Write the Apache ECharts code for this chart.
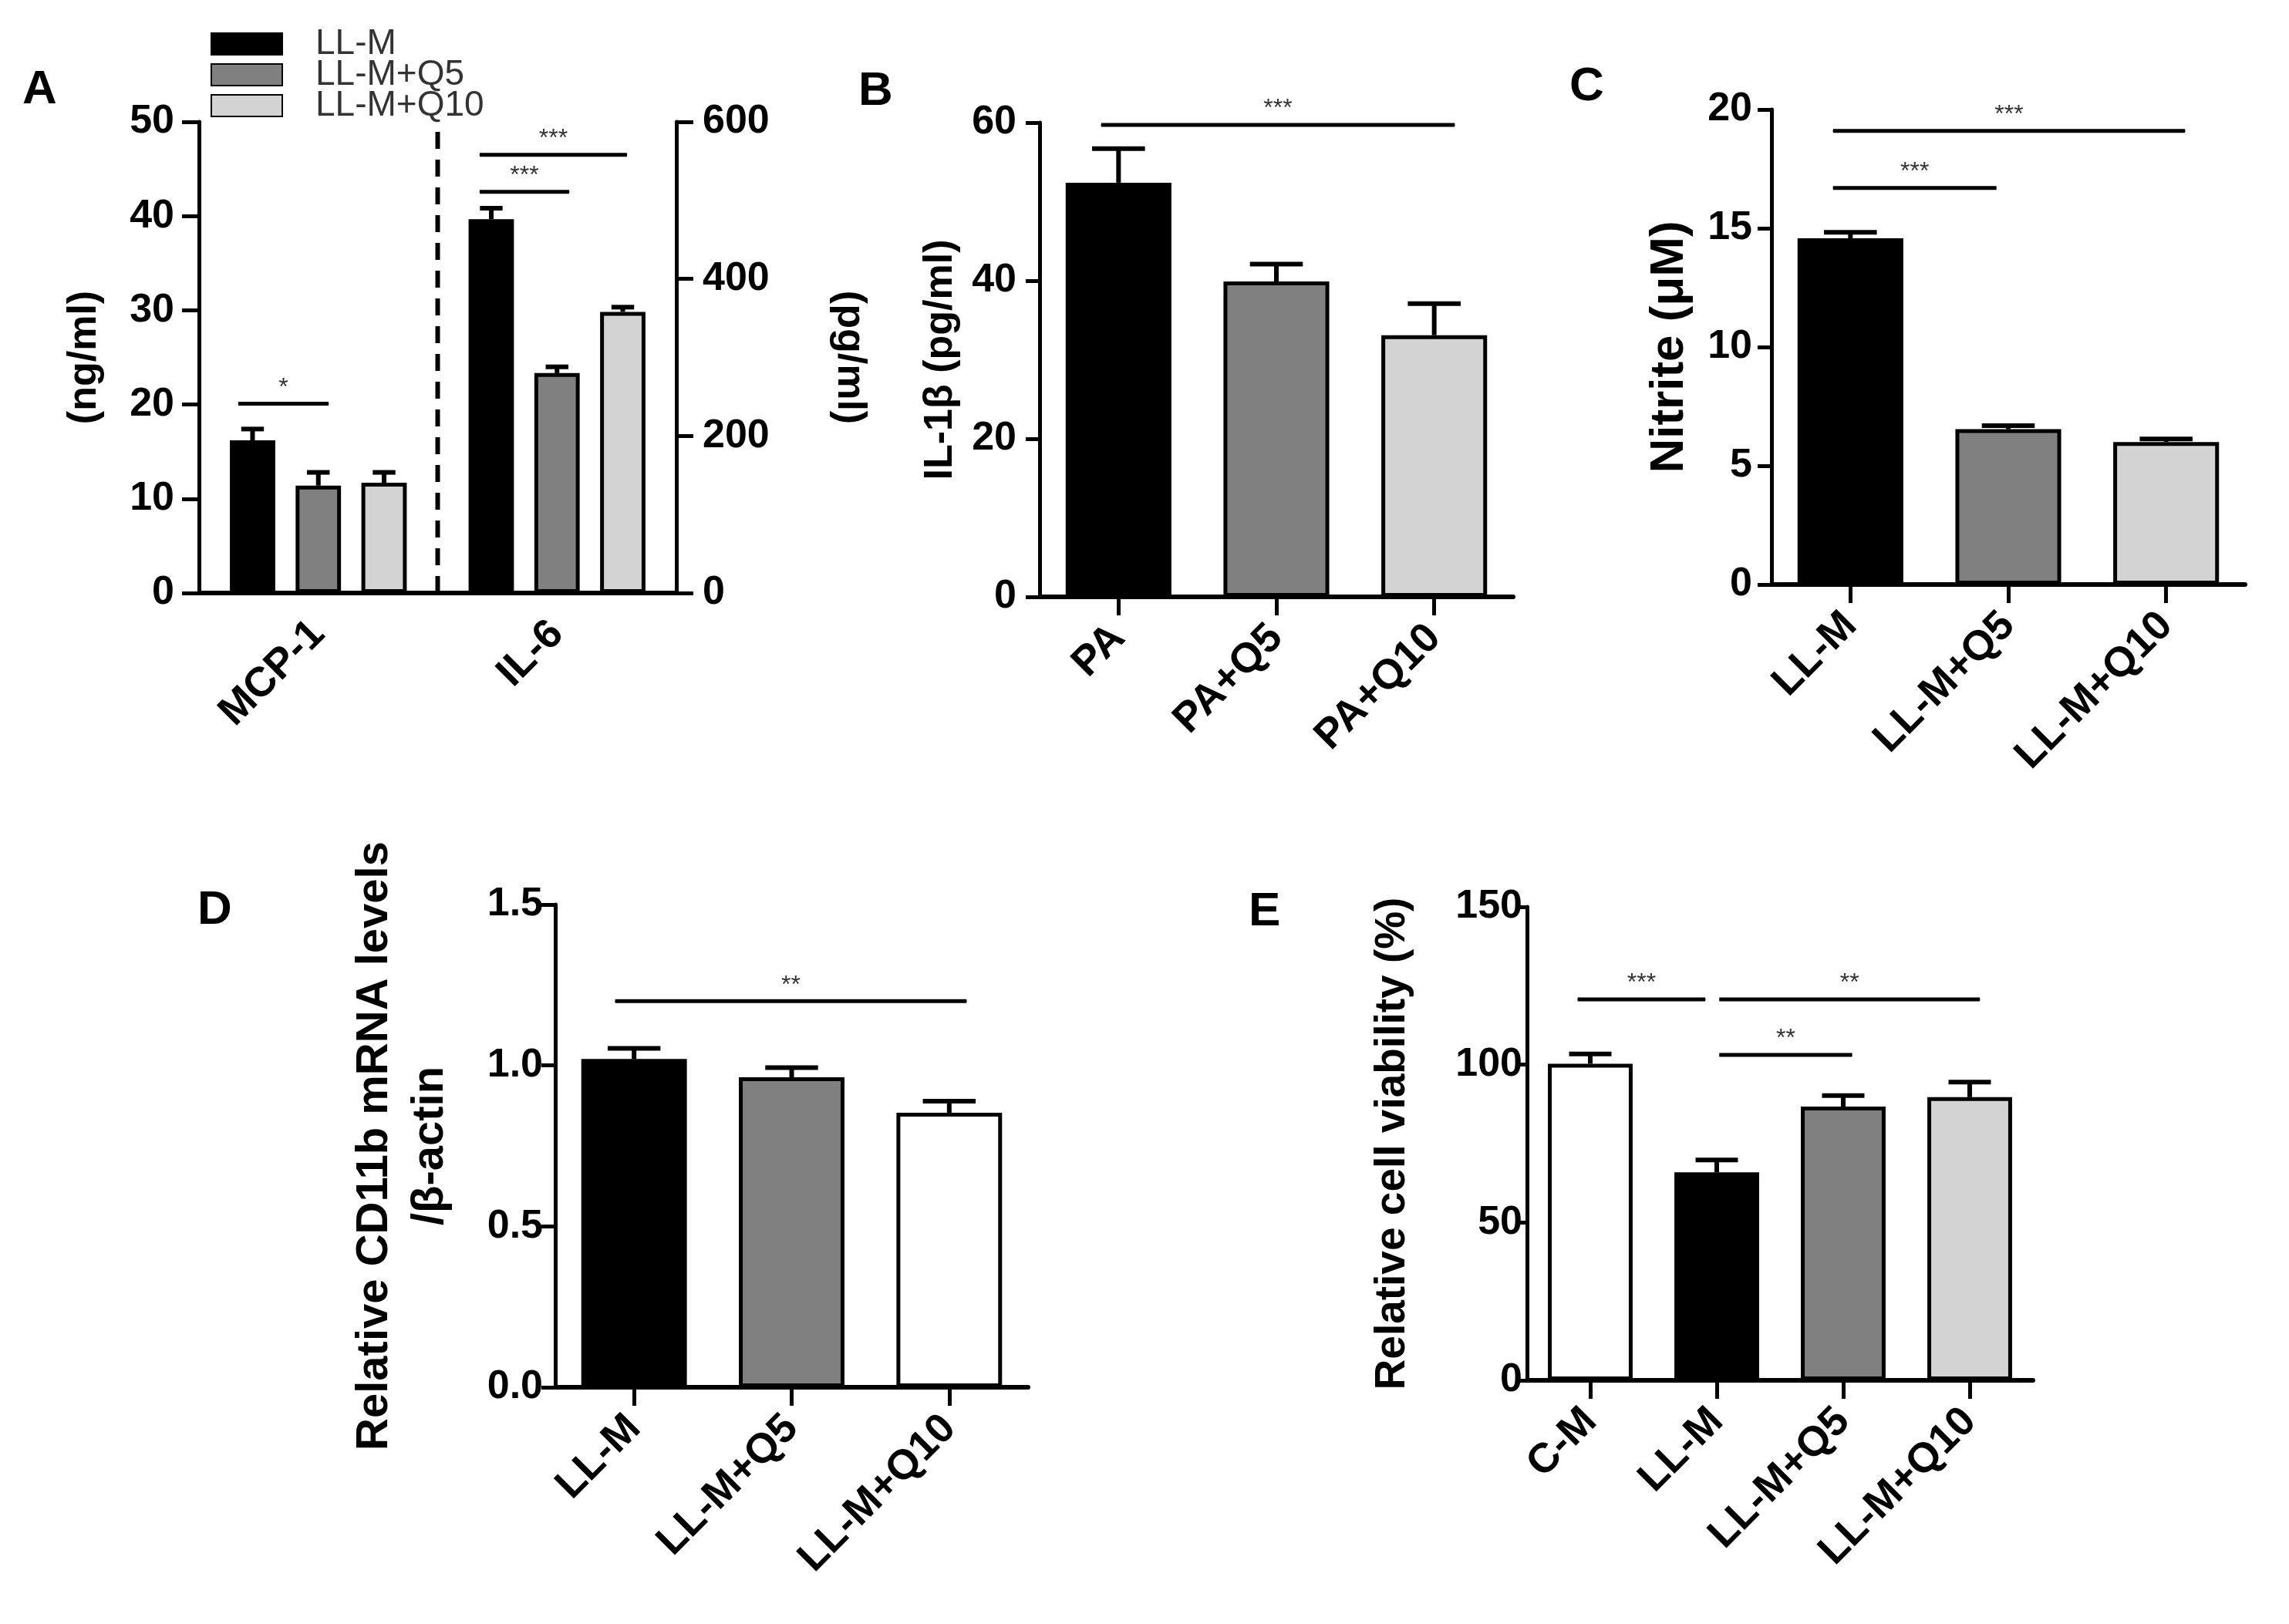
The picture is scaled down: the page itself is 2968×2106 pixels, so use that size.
<!DOCTYPE html>
<html>
<head>
<meta charset="utf-8">
<script src="https://cdn.jsdelivr.net/npm/echarts@6/dist/echarts.min.js"></script>
<style>
  html, body { margin: 0; padding: 0; background: #fff; }
  #main { width: 2968px; height: 2106px; }
</style>
</head>
<body>
<div id="main"></div>
<script>
var FONT = '"Liberation Sans", Arial, sans-serif';
var BLACK = '#000000', GRAY = '#808080', LIGHT = '#d3d3d3', WHITE = '#ffffff';

// ---- A: MCP-1 (left axis, ng/ml) and IL-6 (right axis, pg/ml)
var groupsA = ['MCP-1', 'IL-6'];
var namesA = ['LL-M', 'LL-M+Q5', 'LL-M+Q10'];
var colorsA = [BLACK, GRAY, LIGHT];
var mcp1Values = [16.2, 11.4, 11.7];
var mcp1Errors = [1.2, 1.4, 1.1];
var il6Values = [476, 280, 358];
var il6Errors = [14, 8, 6];
var ticksALeft = [0, 10, 20, 30, 40, 50];
var ticksARight = [0, 200, 400, 600];
// [from, to (category units), level, stars, axis 0=left 1=right]
var sigA = [[-0.335, 0.043, 20.1, '*', 0], [0.676, 1.051, 511, '***', 1], [0.676, 1.293, 558, '***', 1]];

// ---- B: IL-1beta
var catsB = ['PA', 'PA+Q5', 'PA+Q10'];
var valuesB = [52.4, 39.9, 33.1];
var errorsB = [4.3, 2.2, 4.0];
var colorsB = [BLACK, GRAY, LIGHT];
var ticksB = [0, 20, 40, 60];
var sigB = [[-0.11, 2.13, 59.7, '***']];

// ---- C: nitrite
var catsC = ['LL-M', 'LL-M+Q5', 'LL-M+Q10'];
var valuesC = [14.58, 6.54, 6.0];
var errorsC = [0.25, 0.15, 0.13];
var colorsC = [BLACK, GRAY, LIGHT];
var ticksC = [0, 5, 10, 15, 20];
var sigC = [[-0.11, 2.12, 19.1, '***'], [-0.11, 0.925, 16.7, '***']];

// ---- D: CD11b mRNA
var catsD = ['LL-M', 'LL-M+Q5', 'LL-M+Q10'];
var valuesD = [1.02, 0.963, 0.853];
var errorsD = [0.033, 0.03, 0.036];
var colorsD = [BLACK, GRAY, WHITE];
var ticksD = [0, 0.5, 1.0, 1.5];
var sigD = [[-0.12, 2.11, 1.2, '**']];

// ---- E: cell viability
var catsE = ['C-M', 'LL-M', 'LL-M+Q5', 'LL-M+Q10'];
var valuesE = [100.3, 65.9, 86.7, 89.7];
var errorsE = [3.1, 3.9, 3.5, 4.8];
var colorsE = [WHITE, BLACK, GRAY, LIGHT];
var ticksE = [0, 50, 100, 150];
var sigE = [[-0.10, 0.91, 120.7, '***'], [1.02, 3.08, 120.7, '**'], [1.02, 2.07, 103.1, '**']];

var chart = echarts.init(document.getElementById('main'));

var txt = { fontFamily: FONT, fontWeight: 'bold', color: '#000' };

function yAxis(grid, ticks, name, gap, pos, rot, margin, digits) {
  return {
    type: 'value', gridIndex: grid, position: pos,
    min: ticks[0], max: ticks[ticks.length - 1], interval: ticks[1] - ticks[0],
    name: name, nameLocation: 'middle', nameGap: gap, nameRotate: rot,
    nameTextStyle: Object.assign({ fontSize: 52, lineHeight: 72 }, txt),
    axisLine: { show: true, onZero: false, lineStyle: { color: '#000', width: 5 } },
    axisTick: { show: true, length: 18, lineStyle: { color: '#000', width: 5 } },
    axisLabel: Object.assign({ margin: margin, fontSize: 52,
      formatter: function (v) { return digits ? v.toFixed(digits) : String(v); } }, txt),
    splitLine: { show: false }
  };
}

function xCat(grid, cats, show, ticks) {
  return {
    type: 'category', gridIndex: grid, data: cats, show: show,
    axisLine: { show: true, onZero: false, lineStyle: { color: '#000', width: 6 } },
    axisTick: { show: ticks, alignWithLabel: true, length: 24, lineStyle: { color: '#000', width: 5 } },
    axisLabel: Object.assign({ rotate: 45, margin: 45, fontSize: 54, interval: 0 }, txt),
    splitLine: { show: false }
  };
}

function xVal(grid, n) {
  return { type: 'value', gridIndex: grid, min: -0.5, max: n - 0.5, show: false,
    axisLine: { onZero: false }, splitLine: { show: false } };
}

function errSeries(xi, yi, xs, vals, errs, barFrac) {
  return {
    type: 'custom', xAxisIndex: xi, yAxisIndex: yi, z: 4, silent: true,
    data: vals.map(function (v, i) { return [xs[i], v, v + errs[i]]; }),
    renderItem: function (params, api) {
      var base = api.coord([api.value(0), api.value(1)]);
      var top = api.coord([api.value(0), api.value(2)]);
      var half = api.size([barFrac, 0])[0] / 4;
      var st = { stroke: '#000', lineWidth: 6 };
      return { type: 'group', children: [
        { type: 'line', shape: { x1: base[0], y1: base[1], x2: top[0], y2: top[1] }, style: st },
        { type: 'line', shape: { x1: top[0] - half, y1: top[1], x2: top[0] + half, y2: top[1] }, style: st }
      ] };
    }
  };
}

function sigSeries(xi, yi, s) {
  var mid = (s[0] + s[1]) / 2;
  return {
    type: 'line', xAxisIndex: xi, yAxisIndex: yi, silent: true, z: 6,
    symbol: 'circle', symbolSize: 1, showSymbol: true, itemStyle: { color: '#000' },
    lineStyle: { color: '#000', width: 5 },
    label: { show: false },
    data: [[s[0], s[2]],
      { value: [mid, s[2]], label: { show: true, position: 'top', distance: 4, formatter: s[3],
        fontFamily: FONT, fontSize: 32, color: '#333' } },
      [s[1], s[2]]]
  };
}

function barItems(vals, colors) {
  return vals.map(function (v, i) {
    return { value: v, itemStyle: { color: colors[i], borderColor: '#000', borderWidth: 5 } };
  });
}

var grids = [
  { left: 258, top: 158, width: 619, height: 611 },   // A
  { left: 1348, top: 159, width: 614, height: 615 },  // B
  { left: 2297, top: 142, width: 614, height: 616 },  // C
  { left: 720, top: 1173, width: 613, height: 626 },  // D
  { left: 1980, top: 1176, width: 656, height: 614 }  // E
];

var xAxes = [
  xCat(0, groupsA, true, false), xCat(0, groupsA, false, false), xVal(0, 2),
  xCat(1, catsB, true, true), xVal(1, catsB.length),
  xCat(2, catsC, true, true), xVal(2, catsC.length),
  xCat(3, catsD, true, true), xVal(3, catsD.length),
  xCat(4, catsE, true, true), xVal(4, catsE.length)
];

var yAxes = [
  yAxis(0, ticksALeft, '(ng/ml)', 112, 'left', 90, 32),
  yAxis(0, ticksARight, '(pg/ml)', 188, 'right', -90, 34),
  yAxis(1, ticksB, 'IL-1β (pg/ml)', 92, 'left', 90, 30),
  yAxis(2, ticksC, 'Nitrite (μM)', 96, 'left', 90, 25),
  yAxis(3, ticksD, 'Relative CD11b mRNA levels\n/β-actin', 126, 'left', 90, 16, 1),
  yAxis(4, ticksE, 'Relative cell viability (%)', 138, 'left', 90, 6)
];
yAxes[0].axisTick.length = 22;
yAxes[1].axisTick.length = 22;
yAxes[3].nameTextStyle.fontSize = 62;
yAxes[4].nameTextStyle.fontSize = 58;
yAxes[5].nameTextStyle.fontSize = 55;
yAxes[5].axisTick.length = 12;

var series = [];
var BW_A = 0.19, GAP_A = 0.45, stepA = BW_A * (1 + GAP_A);
namesA.forEach(function (n, k) {
  var st = { color: colorsA[k], borderColor: '#000', borderWidth: 5 };
  series.push({ type: 'bar', name: n, xAxisIndex: 0, yAxisIndex: 0, data: [mcp1Values[k], '-'],
    barWidth: (BW_A * 100) + '%', barGap: (GAP_A * 100) + '%', itemStyle: st, z: 3 });
  series.push({ type: 'bar', name: n, xAxisIndex: 1, yAxisIndex: 1, data: ['-', il6Values[k]],
    barWidth: (BW_A * 100) + '%', barGap: (GAP_A * 100) + '%', itemStyle: st, z: 3 });
});
var offs = namesA.map(function (n, k) { return (k - 1) * stepA; });
series.push(errSeries(2, 0, offs.map(function (o) { return 0 + o; }), mcp1Values, mcp1Errors, BW_A));
series.push(errSeries(2, 1, offs.map(function (o) { return 1 + o; }), il6Values, il6Errors, BW_A));
series.push({ type: 'line', xAxisIndex: 2, yAxisIndex: 0, silent: true, symbol: 'none', z: 2,
  lineStyle: { color: '#000', width: 6, type: [22, 14] }, data: [[0.5, 0], [0.5, 49.4]] });
sigA.forEach(function (s) { series.push(sigSeries(2, s[4] ? 1 : 0, s)); });

var panels = [
  { x: 3, y: 2, cats: catsB, vals: valuesB, errs: errorsB, colors: colorsB, sig: sigB },
  { x: 5, y: 3, cats: catsC, vals: valuesC, errs: errorsC, colors: colorsC, sig: sigC },
  { x: 7, y: 4, cats: catsD, vals: valuesD, errs: errorsD, colors: colorsD, sig: sigD },
  { x: 9, y: 5, cats: catsE, vals: valuesE, errs: errorsE, colors: colorsE, sig: sigE }
];
panels.forEach(function (p) {
  series.push({ type: 'bar', xAxisIndex: p.x, yAxisIndex: p.y, barWidth: '67%', z: 3,
    data: barItems(p.vals, p.colors) });
  series.push(errSeries(p.x + 1, p.y, p.cats.map(function (c, i) { return i; }), p.vals, p.errs, 0.67));
  p.sig.forEach(function (s) { series.push(sigSeries(p.x + 1, p.y, s)); });
});

function letter(t, l, top) {
  return { text: t, left: l, top: top, padding: 0,
    textStyle: { fontFamily: FONT, fontSize: 62, fontWeight: 'bold', color: '#000' } };
}

chart.setOption({
  backgroundColor: '#fff',
  animation: false,
  title: [letter('A', 29, 86), letter('B', 1113, 88), letter('C', 2035, 82),
          letter('D', 256, 1150), letter('E', 1619, 1152)],
  legend: {
    data: namesA, orient: 'vertical', left: 273, top: 34, padding: 0,
    itemWidth: 92, itemHeight: 28, itemGap: -6, icon: 'rect', selectedMode: false,
    textStyle: { fontFamily: FONT, fontSize: 46, color: '#333', padding: [0, 0, 0, 38] }
  },
  grid: grids,
  xAxis: xAxes,
  yAxis: yAxes,
  series: series
});
</script>
</body>
</html>
